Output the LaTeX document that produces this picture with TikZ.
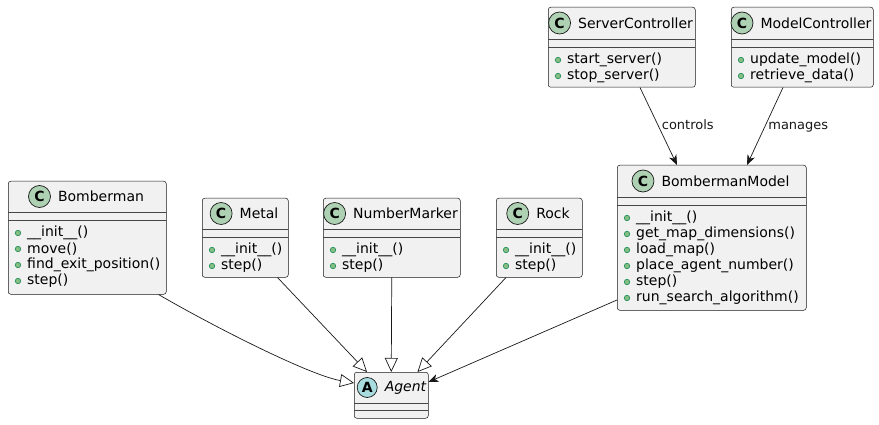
\documentclass[tikz,border=0pt]{standalone}
\usepackage{fontspec}
\setmainfont{DejaVu Sans}
\usetikzlibrary{arrows.meta, positioning}
\definecolor{umlline}{HTML}{181818}
\definecolor{umlbg}{HTML}{F1F1F1}
\definecolor{cgreen}{HTML}{ADD1B2}
\definecolor{acyan}{HTML}{A9DCDF}
\definecolor{dotfill}{HTML}{84BE84}
\definecolor{dotline}{HTML}{038048}

\begin{document}
\begin{tikzpicture}[
  x=1pt, y=-1pt,
  classbox/.style={rectangle, draw=umlline, fill=umlbg, line width=0.5pt, rounded corners=2.5pt, anchor=north west, inner sep=0pt},
  cicon/.style={circle, draw=umlline, fill=cgreen, line width=0.7pt, minimum size=22pt, inner sep=0pt, font=\bfseries\fontsize{14}{14}\selectfont},
  classname/.style={inner sep=0pt, font=\fontsize{14}{16}\selectfont},
  member/.style={anchor=west, inner sep=0pt, font=\fontsize{14}{16}\selectfont},
  mdot/.style={circle, draw=dotline, fill=dotfill, line width=0.5pt, minimum size=5.5pt, inner sep=0pt},
  sepline/.style={draw=umlline!80, line width=0.5pt},
  inherit/.style={-{Triangle[length=14pt, width=13pt, fill=white]}, umlline, line width=0.7pt},
  assoc/.style={-{Stealth[length=10pt, width=8pt, inset=3pt]}, umlline, line width=0.7pt},
  lbl/.style={inner sep=0pt, text height=9.5pt, text depth=2.5pt, font=\fontsize{13}{15}\selectfont}
]
\useasboundingbox (0,0) rectangle (879,425);

% classes: id / left / top / width / height / header / name / methods
\foreach \id/\x/\y/\w/\h/\hh/\cname/\methods in {
  bomberman/8/181/158/113/31/Bomberman/{\_\_init\_\_(),move(),find\_exit\_position(),step()},
  metal/202/198/86/79/31/Metal/{\_\_init\_\_(),step()},
  marker/323/198/137/79/31/NumberMarker/{\_\_init\_\_(),step()},
  rock/496/198/86/79/31/Rock/{\_\_init\_\_(),step()},
  bmodel/617/165/189/145/32/BombermanModel/{\_\_init\_\_(),get\_map\_dimensions(),load\_map(),place\_agent\_number(),step(),run\_search\_algorithm()},
  server/548/7/147/80/32/ServerController/{start\_server(),stop\_server()},
  model/731/7/142/80/32/ModelController/{update\_model(),retrieve\_data()}} {
  \node[classbox, minimum width=\w pt, minimum height=\h pt] (\id) at (\x,\y) {};
  \node[classname] (\id-t) at (\x+\w/2+14, \y+\hh/2) {\cname};
  \node[cicon, left=7pt of \id-t] (\id-i) {C};
  \draw[sepline] (\x,\y+\hh) -- +(\w,0);
  \draw[sepline] (\x,\y+\hh+8) -- +(\w,0);
  \foreach \m [count=\i] in \methods {
    \node[mdot] (\id-d\i) at (\x+10, \y+\hh+5+16*\i) {};
    \node[member] (\id-m\i) at (\x+19, \y+\hh+5+16*\i) {\m};
  }
}

% abstract class
\node[classbox, minimum width=74pt, minimum height=46pt] (agent) at (354,372) {};
\node[classname, font=\itshape\fontsize{14}{16}\selectfont] (agent-t) at (405.5,387.5) {Agent};
\node[cicon, fill=acyan, minimum size=20pt, left=7pt of agent-t] (agent-i) {A};
\draw[sepline] (354,403) -- +(74,0);
\draw[sepline] (354,410) -- +(74,0);

\draw[inherit] ([xshift=-8pt]bomberman.south east) .. controls +(55,32) and +(-45,-8) .. ([yshift=-11pt]agent.north west);
\draw[inherit] ([xshift=-11pt]metal.south east) -- ([xshift=13pt]agent.north west);
\draw[inherit] (marker.south) -- (agent.north);
\draw[inherit] ([xshift=10pt]rock.south west) -- ([xshift=-11pt]agent.north east);
\draw[assoc] ([yshift=-135pt]bmodel.north west) -- ([yshift=-10pt]agent.north east);
\draw[assoc] ([xshift=92pt]server.south west) -- node[lbl, right=3pt] (ctl) {controls} ([xshift=60pt]bmodel.north west);
\draw[assoc] ([xshift=52pt]model.south west) -- node[lbl, right=3pt] (mgs) {manages} ([xshift=130pt]bmodel.north west);

\end{tikzpicture}
\end{document}
